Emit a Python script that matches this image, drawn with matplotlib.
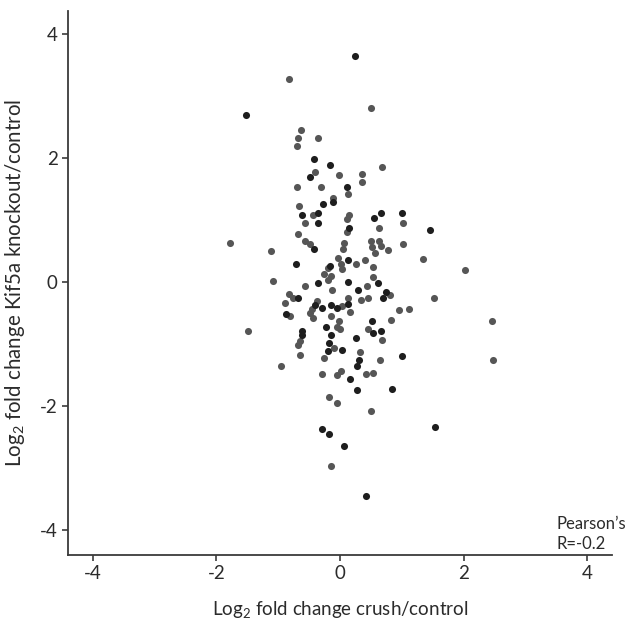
'''Scatter of log2 fold changes: crush vs Kif5a knockout'''
import matplotlib
matplotlib.use("Agg")
import matplotlib.pyplot as plt

plt.rcParams['font.family'] = ['Lato', 'DejaVu Sans']
plt.rcParams['mathtext.default'] = 'regular'
plt.rcParams['axes.unicode_minus'] = False

# darker points
dark_x = [0.24, -1.52, -0.42, -0.16, -0.49, 0.11, -0.11, -0.27, -0.62, -0.35,
          -0.35, 0.55, 0.66, 1.00, 0.15, -0.42, -0.71, 0.13, -0.16, -0.35,
          0.13, 0.62, 0.29, 0.74, 0.70, -0.68, -0.41, -0.15, -0.05, 0.13,
          -0.29, -0.88, 0.52, -0.22, 0.54, 0.66, -0.61, -0.62, -0.15, -0.18,
          0.26, -0.20, 0.04, 0.31, 1.01, 0.27, 0.16, 0.27, 0.85, -0.29,
          -0.17, 0.06, 0.42, 1.45, 1.54]
dark_y = [3.65, 2.70, 1.98, 1.89, 1.69, 1.53, 1.29, 1.26, 1.08, 1.12,
          0.96, 1.03, 1.12, 1.12, 0.88, 0.54, 0.29, 0.35, 0.26, -0.02,
          0.00, -0.01, -0.13, -0.16, -0.25, -0.26, -0.37, -0.37, -0.41, -0.36,
          -0.42, -0.52, -0.62, -0.73, -0.82, -0.79, -0.79, -0.85, -0.85, -0.98,
          -0.90, -1.11, -1.10, -1.25, -1.19, -1.36, -1.57, -1.74, -1.73, -2.37,
          -2.45, -2.64, -3.45, 0.84, -2.33]

# grey points
grey_x = [-0.82, 0.51, -0.63, -0.68, -0.35, -0.69, -0.41, -0.01, 0.35, 0.68,
          0.35, -0.69, -0.30, 0.13, -0.11, -0.66, -0.43, -0.57, 0.15, 0.11,
          1.02, 0.63, 0.12, -0.68, -0.57, -0.49, 0.06, 0.05, 0.51, 0.63,
          0.52, 0.66, 0.57, 0.78, 1.02, -1.78, -1.12, -0.03, 0.02, 0.26,
          0.41, -0.20, 0.04, 0.53, -0.26, -0.15, -0.20, 0.54, -1.09, -0.56,
          -0.13, 0.43, 0.81, -0.82, -0.76, -0.89, 0.34, 0.46, 0.13, -0.37,
          0.04, -0.46, -0.49, 0.16, 0.96, 1.12, -0.81, -0.43, -0.15, -0.02,
          0.82, -0.05, 0.00, 0.46, -1.49, 0.68, -0.65, -0.68, -0.09, 0.33,
          0.65, -0.65, -0.26, -0.95, -0.29, -0.05, 0.02, 0.42, 0.53, -0.18,
          -0.04, 0.50, -0.15, 1.34, 2.02, 1.52, 2.46, 2.48]
grey_y = [3.27, 2.81, 2.45, 2.32, 2.32, 2.19, 1.78, 1.73, 1.74, 1.86,
          1.62, 1.54, 1.53, 1.42, 1.35, 1.23, 1.09, 0.96, 1.09, 1.02,
          0.96, 0.87, 0.81, 0.77, 0.67, 0.61, 0.63, 0.53, 0.66, 0.66,
          0.57, 0.58, 0.47, 0.52, 0.61, 0.63, 0.51, 0.39, 0.30, 0.29,
          0.36, 0.23, 0.22, 0.24, 0.13, 0.10, 0.04, 0.09, 0.02, -0.06,
          -0.12, -0.06, -0.20, -0.19, -0.26, -0.34, -0.28, -0.26, -0.25, -0.30,
          -0.39, -0.44, -0.50, -0.48, -0.45, -0.44, -0.54, -0.58, -0.55, -0.62,
          -0.61, -0.72, -0.76, -0.75, -0.79, -0.94, -0.95, -1.01, -1.07, -1.13,
          -1.26, -1.18, -1.22, -1.35, -1.48, -1.50, -1.44, -1.48, -1.46, -1.85,
          -1.95, -2.08, -2.96, 0.38, 0.19, -0.26, -0.62, -1.25]

ticks = [-4, -2, 0, 2, 4]
txt = '#2b2b2b'


def main():
    fig = plt.figure(figsize=(6.36, 6.27), dpi=100)
    ax = fig.add_axes([0.107, 0.115, 0.855, 0.867])

    ax.scatter(grey_x, grey_y, s=26, color='#565656', linewidths=0, zorder=2)
    ax.scatter(dark_x, dark_y, s=26, color='#1e1e1e', linewidths=0, zorder=3)

    ax.set_xlim(-4.4, 4.4)
    ax.set_ylim(-4.4, 4.37)
    ax.set_xticks(ticks)
    ax.set_yticks(ticks)
    ax.tick_params(labelsize=13.5, colors=txt, length=4, width=1.1)

    for side in ['top', 'right']:
        ax.spines[side].set_visible(False)
    for side in ['left', 'bottom']:
        ax.spines[side].set_linewidth(1.3)
        ax.spines[side].set_color('#3a3a3a')

    ax.set_xlabel('Log$_2$ fold change crush/control', fontsize=13.5,
                  color=txt, labelpad=12)
    ax.set_ylabel('Log$_2$ fold change Kif5a knockout/control', fontsize=14.8,
                  color=txt, labelpad=9)

    ax.text(0.898, 0.006, 'Pearson\u2019s\nR=-0.2', transform=ax.transAxes,
            ha='left', va='bottom', fontsize=12, color=txt, linespacing=1.25)

    fig.savefig('out.png', dpi=100)


if __name__ == '__main__':
    main()
